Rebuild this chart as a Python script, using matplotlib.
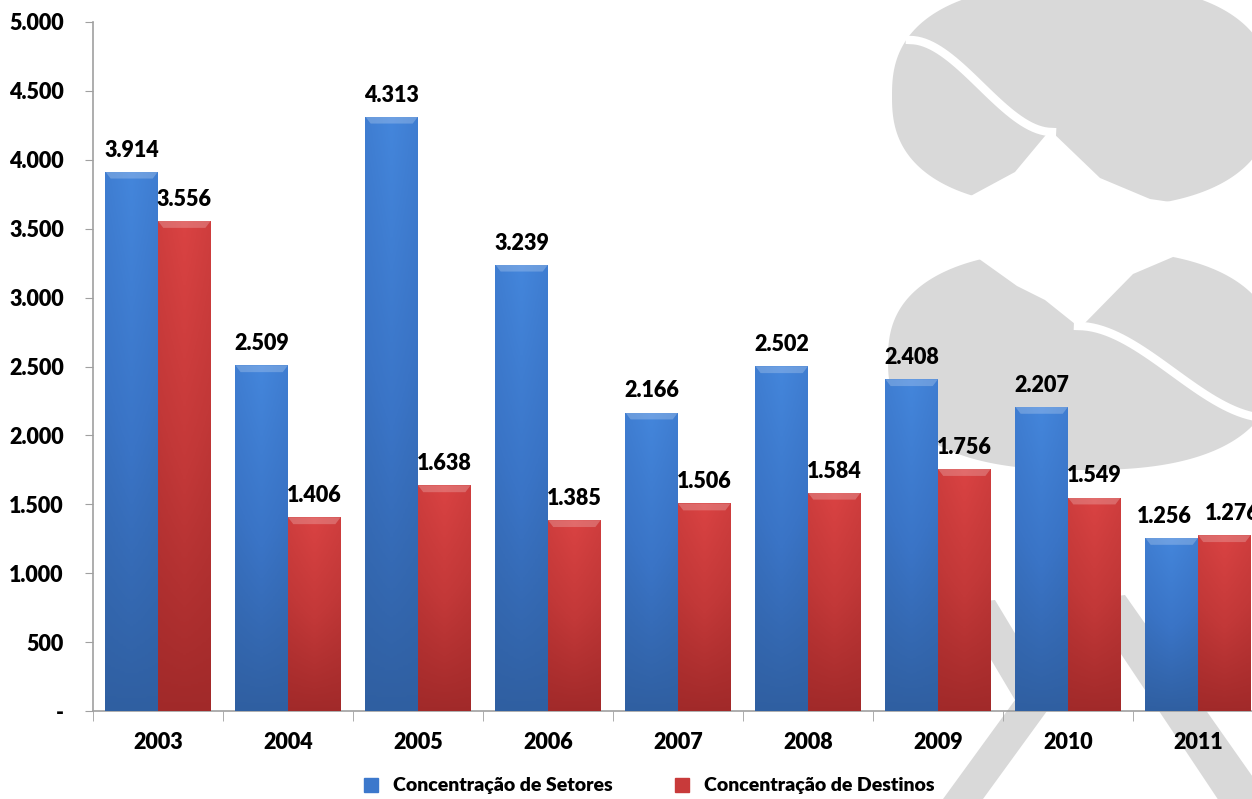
import matplotlib
matplotlib.use("Agg")
import matplotlib.pyplot as plt
import numpy as np
from matplotlib.patches import Polygon
from matplotlib.colors import LinearSegmentedColormap

plt.rcParams['font.family'] = ['Lato', 'DejaVu Sans']
plt.rcParams['font.weight'] = 'heavy'

years = ['2003', '2004', '2005', '2006', '2007', '2008', '2009', '2010', '2011']
setores = [3914, 2509, 4313, 3239, 2166, 2502, 2408, 2207, 1256]
destinos = [3556, 1406, 1638, 1385, 1506, 1584, 1756, 1549, 1276]
yticks = [0, 500, 1000, 1500, 2000, 2500, 3000, 3500, 4000, 4500, 5000]

W, H = 1252, 799
fig = plt.figure(figsize=(W / 100, H / 100), dpi=100)

# watermark logo in the background, pixel coordinates
bg = fig.add_axes([0, 0, 1, 1], zorder=-5)
bg.set_xlim(0, W)
bg.set_ylim(H, 0)
bg.axis('off')
wm = '#d9d9d9'


def superellipse(cx, cy, a, b, n=2.5):
    t = np.linspace(0, 2 * np.pi, 300)
    c, s = np.cos(t), np.sin(t)
    px = cx + a * np.sign(c) * np.abs(c) ** (2 / n)
    py = cy + b * np.sign(s) * np.abs(s) ** (2 / n)
    bg.add_patch(Polygon(np.column_stack([px, py]), color=wm, lw=0))


t = np.linspace(0, 1, 40)
ease = 3 * t**2 - 2 * t**3

# upper logo
superellipse(1082, 96, 190, 112)
bg.add_patch(Polygon([[1050, 130], [1100, 178], [1150, 199], [1205, 207], [1205, 240],
                      [915, 240], [965, 199], [1015, 172]], color='white', lw=0, zorder=2))
bg.plot(910 + 142 * t, 40 + 92 * ease, color='white', lw=6, zorder=3)
# middle logo
superellipse(1082, 360, 194, 110)
bg.add_patch(Polygon([[950, 240], [1190, 240], [1180, 254], [1133, 274], [1080, 328],
                      [1045, 300], [1017, 286], [975, 256]], color='white', lw=0, zorder=2))
bg.plot(1078 + 190 * t, 326 + 92 * ease, color='white', lw=6, zorder=3)
# lower strokes
bg.add_patch(Polygon([[958, 604], [995, 600], [1055, 700], [975, 810], [935, 810], [1015, 700]],
                     color=wm, lw=0))
bg.add_patch(Polygon([[1085, 600], [1125, 595], [1262, 790], [1262, 810], [1225, 810]],
                     color=wm, lw=0))

ax = fig.add_axes([93 / W, (H - 711) / H, (1263 - 93) / W, 689 / H])
ax.patch.set_alpha(0)

x = np.arange(len(years))
bw = 0.405
b1 = ax.bar(x - bw / 2, setores, bw, color='#3c78cc', label='Concentração de Setores', zorder=2)
b2 = ax.bar(x + bw / 2, destinos, bw, color='#c83a3a', label='Concentração de Destinos', zorder=2)

blue_cm = LinearSegmentedColormap.from_list('b', ['#2d5a98', '#3a74c6', '#4588de'])
red_cm = LinearSegmentedColormap.from_list('r', ['#992626', '#c23838', '#dd4444'])
for bars, cm in [(b1, blue_cm), (b2, red_cm)]:
    for p in bars:
        x0, y0 = p.get_x(), p.get_y()
        w, h = p.get_width(), p.get_height()
        grad = np.linspace(0, 1, 256).reshape(-1, 1)
        horiz = 1 - 0.25 * np.abs(np.linspace(-1, 1, 32))
        img = grad * 0.85 * horiz + 0.1
        im = ax.imshow(img, cmap=cm, vmin=0, vmax=1, extent=[x0, x0 + w, y0, y0 + h],
                       origin='lower', aspect='auto', zorder=3)
        im.set_clip_path(p)
        # top bevel
        ax.add_patch(Polygon([[x0, y0 + h], [x0 + w, y0 + h], [x0 + w * 0.9, y0 + h - 50],
                              [x0 + w * 0.1, y0 + h - 50]], color='white', alpha=0.22, lw=0,
                             zorder=4))

# label nudges where the last pair would collide
nudge_s = [0] * 8 + [-5]
nudge_d = [0] * 8 + [6]
for bars, vals, nud in [(b1, setores, nudge_s), (b2, destinos, nudge_d)]:
    for p, v, dx in zip(bars, vals, nud):
        ax.annotate(f'{v / 1000:.3f}', (p.get_x() + p.get_width() / 2, v), xytext=(dx, 8),
                    textcoords='offset points', ha='center', va='bottom', fontsize=15.5,
                    fontweight='heavy', zorder=5, annotation_clip=False)

ax.set_xlim(-0.5, len(years) - 0.5)
ax.set_ylim(0, 5000)
ax.set_yticks(yticks)
ax.set_yticklabels(['-' if v == 0 else f'{v:,}'.replace(',', '.') for v in yticks])
ax.set_xticks(x)
ax.set_xticklabels(years)
ax.set_xticks(np.arange(len(years) + 1) - 0.5, minor=True)
ax.tick_params(axis='x', which='major', length=0, pad=15, labelsize=15.5)
ax.tick_params(axis='x', which='minor', length=7, color='#a0a0a0')
ax.tick_params(axis='y', length=6, color='#a0a0a0', pad=15, labelsize=15.5)
for lab in ax.get_xticklabels() + ax.get_yticklabels():
    lab.set_fontweight('heavy')
for s in ['top', 'right']:
    ax.spines[s].set_visible(False)
for s in ['left', 'bottom']:
    ax.spines[s].set_color('#a0a0a0')
    ax.spines[s].set_linewidth(1.2)

h1 = plt.Line2D([], [], marker='s', ls='', color='#3c78cc', markersize=10)
h2 = plt.Line2D([], [], marker='s', ls='', color='#c83a3a', markersize=10)
fig.legend([h1, h2], ['Concentração de Setores', 'Concentração de Destinos'], loc='center',
           bbox_to_anchor=(643 / W, 1 - 786 / H), ncol=2, frameon=False, handletextpad=0.1,
           columnspacing=2.6, prop={'size': 14, 'weight': 'heavy'})

fig.savefig('out.png', dpi=100)
